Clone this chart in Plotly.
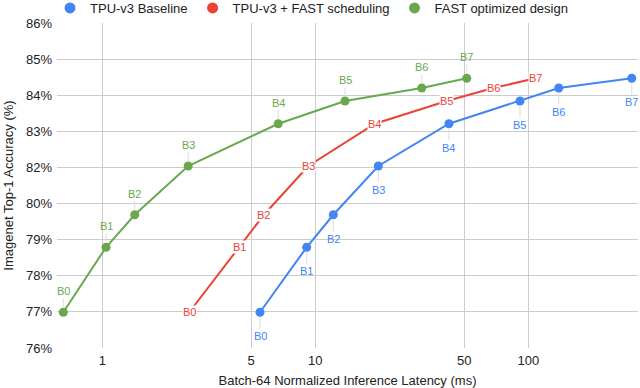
import math
import plotly.graph_objects as go

# ---- data ----
models = ["B0", "B1", "B2", "B3", "B4", "B5", "B6", "B7"]
accuracy = [77.1, 79.1, 80.1, 81.6, 82.9, 83.6, 84.0, 84.3]
latency_baseline = [5.50, 9.11, 12.15, 19.76, 42.4, 91.4, 139.0, 306.0]
latency_fast_sched = [2.56, 4.40, 5.74, 9.27, 19.06, 41.4, 68.5, 108.3]
latency_fast_design = [0.656, 1.041, 1.42, 2.53, 6.70, 13.79, 31.6, 51.4]

series_names = ["TPU-v3 Baseline", "TPU-v3 + FAST scheduling", "FAST optimized design"]
series_colors = ["#4285f4", "#ea4335", "#6aa84f"]

x_tick_vals = [1, 5, 10, 50, 100]
x_tick_labels = ["1", "5", "10", "50", "100"]
y_tick_vals = [76 + i * 10 / 9 for i in range(10)]
y_tick_labels = ["76%", "77%", "78%", "79%", "80%", "82%", "83%", "84%", "85%", "86%"]

FONT = "Arial, Liberation Sans, Helvetica, sans-serif"

fig = go.Figure()

# main traces
fig.add_trace(go.Scatter(x=latency_baseline, y=accuracy, mode="lines+markers",
                         line=dict(color=series_colors[0], width=2),
                         marker=dict(size=9, color=series_colors[0]),
                         showlegend=False, hoverinfo="skip"))
fig.add_trace(go.Scatter(x=latency_fast_sched, y=accuracy, mode="lines",
                         line=dict(color=series_colors[1], width=2),
                         showlegend=False, hoverinfo="skip"))
fig.add_trace(go.Scatter(x=latency_fast_design, y=accuracy, mode="lines+markers",
                         line=dict(color=series_colors[2], width=2),
                         marker=dict(size=9, color=series_colors[2]),
                         showlegend=False, hoverinfo="skip"))

# legend-only entries (circle symbols)
for name, col in zip(series_names, series_colors):
    fig.add_trace(go.Scatter(x=[None], y=[None], mode="markers", name=name,
                             marker=dict(size=11, color=col)))

annotations = []
# blue labels below points
for m, xv, yv in zip(models, latency_baseline, accuracy):
    annotations.append(dict(x=math.log10(xv), y=yv, text=m, showarrow=True,
                            arrowhead=0, arrowwidth=1, arrowcolor="#dddddd",
                            ax=0, ay=24, standoff=5,
                            font=dict(family=FONT, size=11, color=series_colors[0])))
# red labels on points
for m, xv, yv in zip(models, latency_fast_sched, accuracy):
    annotations.append(dict(x=math.log10(xv), y=yv, text=m, showarrow=False,
                            bgcolor="white", borderpad=0,
                            font=dict(family=FONT, size=11, color=series_colors[1])))
# green labels above points
for m, xv, yv in zip(models, latency_fast_design, accuracy):
    annotations.append(dict(x=math.log10(xv), y=yv, text=m, showarrow=True,
                            arrowhead=0, arrowwidth=1, arrowcolor="#dddddd",
                            ax=0, ay=-21, standoff=5,
                            font=dict(family=FONT, size=11, color=series_colors[2])))

fig.update_layout(
    width=640, height=388,
    margin=dict(l=57, r=2, t=23, b=40, autoexpand=False),
    paper_bgcolor="white", plot_bgcolor="white",
    font=dict(family=FONT, size=13, color="#222222"),
    annotations=annotations,
    legend=dict(orientation="h", x=-0.012, xanchor="left", y=1.0, yanchor="bottom",
                font=dict(size=13, color="#222222"),
                bgcolor="rgba(0,0,0,0)", itemwidth=30),
)
fig.update_xaxes(type="log", range=[-0.2127, 2.515], automargin=False,
                 tickvals=x_tick_vals, ticktext=x_tick_labels,
                 showgrid=True, gridcolor="#cccccc", gridwidth=1,
                 zeroline=False, showline=False, ticks="", ticklabelstandoff=3,
                 tickfont=dict(size=13, color="#222222"),
                 title=dict(text="Batch-64 Normalized Inference Latency (ms)",
                            font=dict(size=13, color="#222222"), standoff=9))
fig.update_yaxes(range=[76, 86], tickvals=y_tick_vals, ticktext=y_tick_labels,
                 automargin=False,
                 showgrid=True, gridcolor="#cccccc", gridwidth=1,
                 zeroline=False, showline=False, ticks="", ticklabelstandoff=4,
                 tickfont=dict(size=13, color="#222222"),
                 title=dict(text="Imagenet Top-1 Accuracy (%)",
                            font=dict(size=13, color="#222222"), standoff=9))

fig.write_html("out.html", config={"displayModeBar": False},
               post_script="document.body.style.margin='0';")
